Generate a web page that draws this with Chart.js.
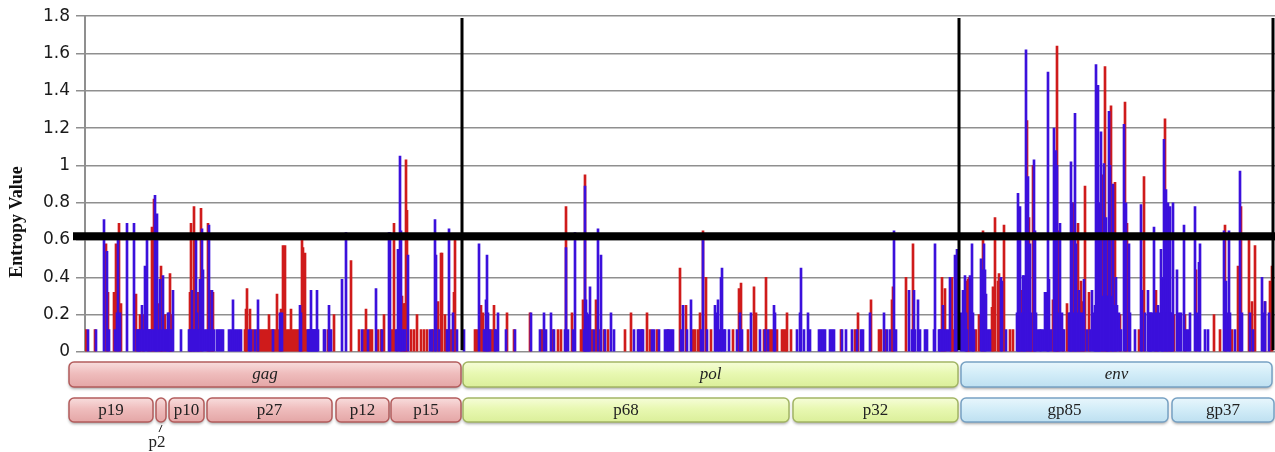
<!DOCTYPE html>
<html>
<head>
<meta charset="utf-8">
<title>Entropy along the genome</title>
<script src="https://cdn.jsdelivr.net/npm/chart.js@4.4.1/dist/chart.umd.min.js"></script>
<style>
  html, body { margin: 0; padding: 0; background: #fff; }
  #wrap { width: 1275px; height: 452px; }
</style>
</head>
<body>
<div id="wrap"><canvas id="entropy-chart" width="1275" height="452"></canvas></div>
<script>
// Entropy per alignment column, [position, entropy]; red and blue series
const gagRed = [[18,.12],[27,.12],[38,.58],[40,.32],[46,.32],[48,.58],[51,.69],[53,.26],[68,.31],[72,.20],[75,.20],[81,.12],[84,.67],[86,.82],[91,.26],[93,.46],[94,.40],[97,.20],[102,.42],[103,.20],[122,.32],[123,.69],[126,.78],[130,.32],[133,.77],[140,.69],[143,.33],[145,.32],[177,.12],[178,.23],[179,.34],[182,.23],[185,.12],[189,.12],[191,.12],[193,.12],[195,.12],[197,.12],[199,.12],[201,.20],[203,.12],[205,.12],[207,.12],[209,.31],[211,.12],[213,.23],[215,.57],[217,.57],[219,.12],[221,.12],[223,.23],[225,.12],[227,.12],[229,.12],[231,.12],[234,.60],[235,.56],[237,.53],[239,.12],[260,.12],[266,.20],[283,.49],[291,.12],[296,.12],[298,.23],[302,.12],[304,.12],[310,.12],[313,.12],[316,.20],[324,.12],[326,.69],[329,.12],[334,.30],[336,.26],[337,.26],[338,1.03],[339,.76],[343,.12],[346,.12],[349,.20],[353,.12],[356,.12],[359,.12],[365,.12],[370,.27],[373,.53],[374,.53],[377,.20],[379,.12],[383,.12],[386,.32],[387,.60]];
const gagBlue = [[20,.12],[28,.12],[36,.71],[39,.54],[41,.12],[47,.12],[49,.21],[50,.60],[52,.21],[59,.69],[66,.69],[69,.12],[70,.12],[71,.12],[72,.12],[74,.25],[76,.12],[77,.46],[79,.60],[80,.12],[82,.12],[83,.12],[85,.12],[87,.84],[88,.12],[89,.74],[90,.12],[92,.39],[93,.12],[95,.41],[96,.12],[98,.12],[99,.12],[100,.21],[101,.21],[102,.12],[104,.12],[105,.33],[113,.12],[121,.12],[122,.12],[123,.12],[124,.33],[125,.12],[126,.12],[127,.12],[128,.60],[129,.21],[130,.12],[131,.12],[132,.39],[134,.66],[135,.44],[137,.12],[139,.12],[141,.68],[142,.12],[144,.33],[146,.12],[149,.12],[151,.12],[153,.12],[155,.12],[161,.12],[163,.12],[165,.28],[167,.12],[169,.12],[171,.12],[173,.12],[181,.12],[183,.12],[187,.12],[190,.28],[205,.12],[212,.21],[214,.21],[232,.25],[233,.21],[240,.12],[241,.12],[242,.12],[243,.33],[244,.12],[245,.12],[246,.12],[247,.12],[248,.12],[249,.33],[250,.12],[256,.12],[257,.12],[261,.25],[263,.12],[274,.39],[278,.64],[294,.12],[300,.12],[308,.34],[314,.12],[321,.64],[322,.64],[328,.12],[330,.55],[332,1.05],[333,.65],[335,.12],[337,.12],[340,.52],[362,.12],[364,.12],[367,.71],[368,.52],[371,.12],[379,.12],[381,.66],[385,.21],[389,.12]];
const polRed = [[407,.12],[409,.12],[413,.25],[415,.21],[417,.12],[421,.12],[424,.12],[426,.25],[439,.21],[446,.12],[462,.21],[474,.12],[485,.12],[490,.12],[493,.12],[498,.78],[504,.21],[513,.12],[515,.28],[517,.95],[524,.12],[528,.28],[532,.12],[536,.12],[540,.12],[557,.12],[563,.21],[574,.12],[579,.21],[582,.12],[589,.12],[600,.12],[612,.45],[618,.25],[625,.12],[627,.12],[630,.12],[632,.21],[635,.65],[638,.40],[643,.12],[665,.12],[671,.34],[673,.37],[680,.12],[686,.35],[688,.21],[696,.12],[698,.40],[702,.12],[704,.12],[709,.12],[714,.12],[716,.12],[718,.12],[719,.21],[723,.12],[773,.12],[787,.12],[790,.21],[803,.28],[811,.12],[813,.12],[817,.12],[824,.28],[825,.35],[838,.40],[845,.58],[874,.40],[877,.34],[883,.32],[884,.40],[886,.12],[888,.50]];
const polBlue = [[396,.12],[411,.58],[416,.12],[418,.28],[419,.52],[420,.21],[422,.12],[427,.12],[428,.12],[430,.21],[438,.12],[447,.12],[463,.21],[472,.12],[476,.21],[478,.12],[483,.21],[486,.12],[497,.12],[498,.56],[500,.12],[505,.12],[507,.64],[516,.12],[517,.89],[518,.28],[519,.21],[520,.20],[521,.12],[522,.35],[526,.12],[530,.66],[533,.52],[537,.12],[543,.21],[546,.12],[566,.12],[570,.12],[571,.12],[573,.12],[575,.12],[584,.12],[586,.12],[591,.12],[597,.12],[599,.12],[601,.12],[603,.12],[605,.12],[613,.12],[615,.25],[619,.12],[623,.28],[633,.12],[635,.62],[639,.12],[647,.25],[648,.21],[650,.28],[651,.12],[653,.40],[654,.45],[656,.12],[657,.12],[661,.12],[669,.12],[672,.21],[674,.12],[683,.21],[692,.12],[697,.12],[700,.12],[706,.25],[707,.21],[729,.12],[732,.21],[733,.45],[736,.12],[740,.21],[742,.12],[751,.12],[753,.12],[755,.12],[757,.12],[762,.12],[764,.12],[766,.12],[774,.12],[778,.12],[784,.12],[789,.12],[793,.12],[795,.12],[802,.21],[816,.21],[819,.12],[822,.12],[826,.65],[828,.12],[841,.33],[844,.12],[846,.33],[847,.12],[850,.28],[852,.12],[857,.12],[859,.12],[866,.12],[867,.58],[871,.12],[872,.12],[873,.12],[875,.25],[876,.12],[878,.12],[880,.12],[882,.40],[887,.52],[889,.55]];
const envRed = [[899,.38],[900,.39],[901,.40],[908,.12],[911,.20],[915,.65],[924,.24],[925,.35],[927,.72],[930,.38],[931,.42],[936,.68],[942,.12],[945,.12],[954,.33],[959,1.24],[961,.72],[964,.12],[965,1.00],[985,.28],[989,1.64],[990,.65],[995,.12],[999,.26],[1005,.80],[1010,.69],[1013,.38],[1015,.27],[1017,.89],[1021,.32],[1034,.95],[1037,1.53],[1039,.60],[1043,1.32],[1047,.91],[1052,.20],[1057,1.34],[1059,.69],[1071,.12],[1076,.94],[1088,.33],[1097,1.25],[1101,.67],[1106,.20],[1117,.20],[1128,.44],[1146,.20],[1152,.12],[1157,.68],[1164,.12],[1170,.46],[1173,.78],[1181,.61],[1184,.27],[1187,.57],[1197,.27],[1202,.38],[1204,.46]];
const envBlue = [[893,.21],[895,.33],[897,.41],[898,.21],[899,.12],[902,.41],[904,.58],[905,.21],[906,.12],[913,.50],[914,.44],[916,.58],[917,.44],[918,.31],[920,.12],[922,.12],[933,.40],[934,.38],[938,.12],[949,.21],[950,.85],[951,.21],[952,.78],[953,.21],[955,.41],[956,.41],[957,.21],[958,1.62],[960,.94],[962,.58],[963,.21],[966,1.03],[967,.65],[968,.21],[970,.12],[972,.12],[973,.12],[975,.12],[977,.32],[979,.32],[980,1.50],[981,.39],[983,.12],[986,1.20],[987,.21],[988,1.08],[989,1.00],[991,.21],[992,.69],[994,.21],[996,.12],[1001,.21],[1002,.21],[1003,1.02],[1004,.80],[1006,.21],[1007,1.28],[1008,.58],[1009,.21],[1011,.33],[1012,.21],[1014,.21],[1016,.39],[1019,.12],[1022,.12],[1024,.33],[1026,.21],[1027,.25],[1028,1.54],[1029,.30],[1030,1.43],[1031,.30],[1032,.80],[1033,1.18],[1035,.30],[1036,1.01],[1038,.72],[1039,.30],[1040,.30],[1041,1.29],[1042,1.00],[1044,.30],[1045,.90],[1046,.25],[1048,.40],[1049,.25],[1051,.21],[1053,.12],[1056,1.22],[1058,.80],[1061,.58],[1062,.21],[1067,.12],[1073,.79],[1074,.33],[1077,.21],[1080,.33],[1081,.21],[1082,.21],[1083,.21],[1084,.21],[1086,.67],[1087,.21],[1089,.21],[1090,.25],[1091,.21],[1093,.55],[1094,.40],[1095,.21],[1096,1.14],[1098,.87],[1099,.21],[1100,.80],[1102,.78],[1103,.21],[1104,.21],[1105,.80],[1109,.44],[1111,.21],[1113,.21],[1116,.68],[1118,.12],[1120,.12],[1122,.21],[1127,.78],[1129,.21],[1131,.48],[1132,.58],[1137,.12],[1140,.12],[1156,.65],[1158,.38],[1159,.21],[1161,.65],[1162,.21],[1167,.12],[1172,.97],[1174,.21],[1182,.21],[1185,.12],[1194,.40],[1196,.21],[1197,.27],[1201,.21]];

// Genome annotation
const genes = ['gag', 'pol', 'env'];
const geneStart = [0, 394, 892];
const geneEnd = [394, 891, 1205];
const proteins = ['p19', 'p2', 'p10', 'p27', 'p12', 'p15', 'p68', 'p32', 'gp85', 'gp37'];
const proteinGene = [0, 0, 0, 0, 0, 0, 1, 1, 2, 2];
const proteinStart = [0, 87, 100, 138, 267, 322, 394, 724, 892, 1103];
const proteinEnd = [86, 99, 137, 265, 322, 394, 722, 891, 1101, 1207];

const threshold = 0.62;
const yTicks = [0, 0.2, 0.4, 0.6, 0.8, 1, 1.2, 1.4, 1.6, 1.8];

// fill top / mid / bottom, border
const genePalette = [
    ['#f8dddd', '#efbdbd', '#e4a6a6', '#b35c5c'],
    ['#f6fdd8', '#e8f8b2', '#dbef9a', '#a2b564'],
    ['#e8f6fc', '#d3edf8', '#bee0f1', '#77a1c3']
];

function toPoints(list) {
    return list.map(([x, y]) => ({ x: x, y: y }));
}

function drawBox(ctx, x0, x1, top, h, pal, label) {
    ctx.save();
    ctx.shadowColor = 'rgba(0,0,0,0.35)';
    ctx.shadowBlur = 3;
    ctx.shadowOffsetY = 2;
    const g = ctx.createLinearGradient(0, top, 0, top + h);
    g.addColorStop(0, pal[0]);
    g.addColorStop(0.45, pal[1]);
    g.addColorStop(1, pal[2]);
    ctx.fillStyle = g;
    ctx.beginPath();
    ctx.roundRect(x0, top, x1 - x0, h, 5);
    ctx.fill();
    ctx.shadowColor = 'transparent';
    ctx.strokeStyle = pal[3];
    ctx.lineWidth = 1.5;
    ctx.stroke();
    ctx.restore();
}

const overlayPlugin = {
    id: 'overlay',
    afterDatasetsDraw(chart) {
        const { ctx, chartArea, scales: { x, y } } = chart;
        ctx.save();
        ctx.strokeStyle = '#000';
        // gene boundaries
        ctx.lineWidth = 3;
        geneEnd.forEach(p => {
            const px = x.getPixelForValue(p);
            ctx.beginPath();
            ctx.moveTo(px, y.getPixelForValue(1.79));
            ctx.lineTo(px, y.getPixelForValue(0.01));
            ctx.stroke();
        });
        // threshold line
        const ty = y.getPixelForValue(threshold);
        ctx.lineWidth = 8;
        ctx.beginPath();
        ctx.moveTo(chartArea.left - 12, ty);
        ctx.lineTo(chartArea.right, ty);
        ctx.stroke();
        ctx.restore();
    },
    afterDraw(chart) {
        const { ctx, chartArea, scales: { x } } = chart;
        const base = chartArea.bottom;

        // y axis title
        ctx.save();
        ctx.translate(17, 222);
        ctx.rotate(-Math.PI / 2);
        ctx.font = 'bold 18px "Liberation Serif"';
        ctx.fillStyle = '#111';
        ctx.textAlign = 'center';
        ctx.textBaseline = 'middle';
        ctx.fillText('Entropy Value', 0, 0);
        ctx.restore();

        ctx.save();
        ctx.textAlign = 'center';
        ctx.textBaseline = 'middle';
        // genes
        genes.forEach((name, i) => {
            const x0 = x.getPixelForValue(geneStart[i]) + 1;
            const x1 = x.getPixelForValue(geneEnd[i]) - 1;
            drawBox(ctx, x0, x1, base + 10, 25, genePalette[i]);
            ctx.font = 'italic 17px "Liberation Serif"';
            ctx.fillStyle = '#222';
            ctx.fillText(name, (x0 + x1) / 2, base + 23);
        });
        // proteins
        proteins.forEach((name, i) => {
            const x0 = x.getPixelForValue(proteinStart[i]) + 1;
            const x1 = x.getPixelForValue(proteinEnd[i]) - 1;
            drawBox(ctx, x0, x1, base + 46, 24, genePalette[proteinGene[i]]);
            ctx.font = '17px "Liberation Serif"';
            ctx.fillStyle = '#222';
            if (x1 - x0 > 20) {
                ctx.fillText(name, (x0 + x1) / 2, base + 59);
            } else {
                const cx = (x0 + x1) / 2;
                ctx.strokeStyle = '#222';
                ctx.lineWidth = 1;
                ctx.beginPath();
                ctx.moveTo(cx + 1, base + 73);
                ctx.lineTo(cx - 2, base + 80);
                ctx.stroke();
                ctx.fillText(name, cx - 4, base + 91);
            }
        });
        ctx.restore();
    }
};

const ctx = document.getElementById('entropy-chart');

new Chart(ctx, {
    type: 'bar',
    data: {
        datasets: [
            {
                label: 'blue',
                data: toPoints(gagBlue.concat(polBlue, envBlue)),
                backgroundColor: '#3b10dc',
                borderWidth: 0,
                barThickness: 2,
                grouped: false
            },
            {
                label: 'red',
                data: toPoints(gagRed.concat(polRed, envRed)),
                backgroundColor: '#cf1b1b',
                borderWidth: 0,
                barThickness: 2,
                grouped: false
            }
        ]
    },
    options: {
        responsive: false,
        animation: false,
        devicePixelRatio: 1,
        events: [],
        layout: { padding: { top: 15, bottom: 100, left: 0, right: 0 } },
        scales: {
            x: {
                type: 'linear',
                min: 17,
                max: 1207,
                offset: false,
                display: false
            },
            y: {
                min: 0,
                max: 1.8,
                afterFit(scale) { scale.width = 85; },
                afterBuildTicks(scale) { scale.ticks = yTicks.map(v => ({ value: v })); },
                ticks: {
                    padding: 6,
                    color: '#1a1a1a',
                    font: { family: '"DejaVu Sans"', size: 17 },
                    callback: v => String(Number(v.toFixed(1)))
                },
                grid: { color: '#8f8f8f', lineWidth: 1.5, tickLength: 9 },
                border: { color: '#8f8f8f', width: 2 }
            }
        },
        plugins: {
            legend: { display: false },
            tooltip: { enabled: false }
        }
    },
    plugins: [overlayPlugin]
});
</script>
</body>
</html>
